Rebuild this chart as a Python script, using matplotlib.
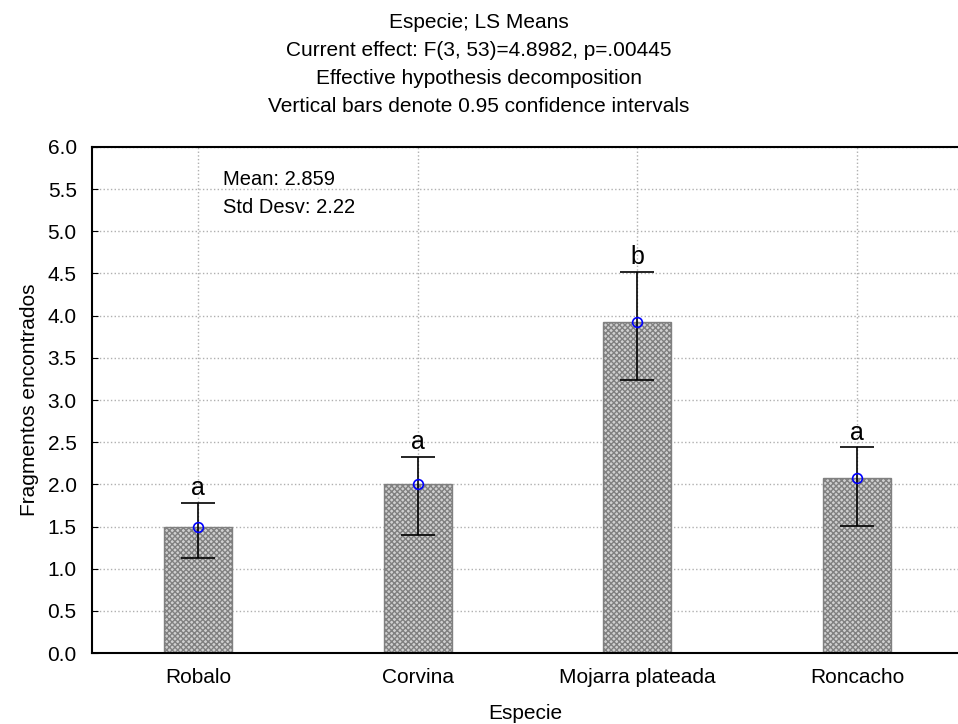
import matplotlib
matplotlib.use("Agg")
import matplotlib.pyplot as plt
import numpy as np

plt.rcParams['font.family'] = ['Liberation Sans', 'DejaVu Sans']
plt.rcParams['hatch.color'] = '#6e6e6e'
plt.rcParams['hatch.linewidth'] = 1.0

especies = ["Robalo", "Corvina", "Mojarra plateada", "Roncacho"]
medias = [1.50, 2.00, 3.93, 2.07]
ic_inf = [1.13, 1.40, 3.24, 1.51]
ic_sup = [1.78, 2.33, 4.52, 2.44]
letras = ["a", "a", "b", "a"]
titulo = ["Especie; LS Means",
          "Current effect: F(3, 53)=4.8982, p=.00445",
          "Effective hypothesis decomposition",
          "Vertical bars denote 0.95 confidence intervals"]

fig = plt.figure(figsize=(9.58, 7.24), dpi=100)
ax = fig.add_axes([0.096, 0.098, 0.904, 0.699])

x = np.arange(len(especies))
medias = np.array(medias)
err = [medias - np.array(ic_inf), np.array(ic_sup) - medias]

ax.bar(x, medias, width=0.31, color='#d0d0d0', edgecolor='#808080',
       hatch='xxxxxx', linewidth=1.0, zorder=2)
ax.errorbar(x, medias, yerr=err, fmt='none', ecolor='black',
            elinewidth=1.2, capsize=12, capthick=1.2, zorder=3)
ax.plot(x, medias, 'o', mfc='none', mec='blue', ms=7, mew=1.2, zorder=4)

for xi, top, l in zip(x, ic_sup, letras):
    ax.text(xi, top + 0.03, l, ha='center', va='bottom', fontsize=18)

ax.text(0.114, 5.61, "Mean: 2.859", fontsize=14.5, va='center')
ax.text(0.114, 5.28, "Std Desv: 2.22", fontsize=14.5, va='center')

ax.set_xlim(-0.483, 3.46)
ax.set_ylim(0, 6)
ax.set_yticks(np.arange(0, 6.01, 0.5))
ax.set_yticklabels([f"{v:.1f}" for v in np.arange(0, 6.01, 0.5)])
ax.set_xticks(x)
ax.set_xticklabels(especies)
ax.tick_params(direction='in', labelsize=15, length=4, pad=11)
ax.grid(True, linestyle=':', color='#b0b0b0', linewidth=1, zorder=0)
ax.set_axisbelow(True)
ax.spines['right'].set_visible(False)
for s in ['left', 'top', 'bottom']:
    ax.spines[s].set_linewidth(1.5)

ax.set_xlabel("Especie", fontsize=15, labelpad=12)
ax.set_ylabel("Fragmentos encontrados", fontsize=15, labelpad=6)

for i, t in enumerate(titulo):
    fig.text(0.5, 1 - (22.5 + 28 * i) / 724, t, ha='center', va='center', fontsize=15)

fig.savefig("out.png", dpi=100)
